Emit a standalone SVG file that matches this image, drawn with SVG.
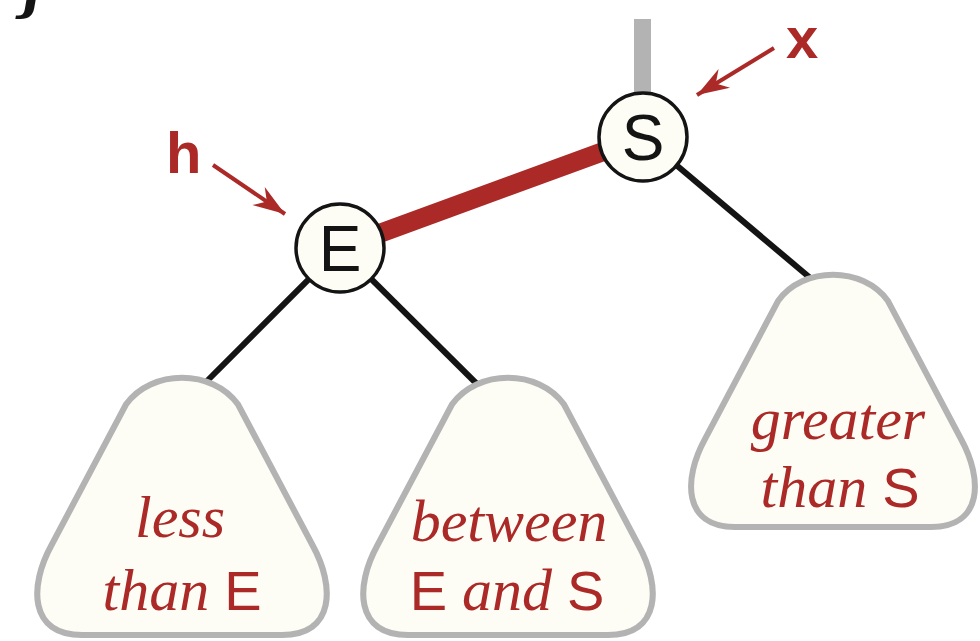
<svg xmlns="http://www.w3.org/2000/svg" xmlns:xlink="http://www.w3.org/1999/xlink" width="980" height="641" viewBox="0 0 980 641">
<style>
.node circle{fill:#fdfdf6;stroke:#141414;stroke-width:3.5}
.node text{font-family:"Liberation Sans","DejaVu Sans",sans-serif;font-size:64px;fill:#141414;text-anchor:middle}
.lbl{font-family:"Liberation Serif","DejaVu Serif",serif;font-style:italic;font-size:60px;fill:#ab2a27;text-anchor:middle}
.up{font-family:"Liberation Sans","DejaVu Sans",sans-serif;font-style:normal;font-size:56px}
.ptr{font-family:"Liberation Sans","DejaVu Sans",sans-serif;font-weight:bold;font-size:58px;fill:#ab2a27}
.edge{stroke:#141414;stroke-width:6;fill:none}
.red{stroke:#ab2a27;stroke-width:19;fill:none}
.arr{stroke:#ab2a27;stroke-width:4;fill:none;marker-end:url(#ah)}
.tri{fill:#fdfdf6;stroke:#b3b3b3;stroke-width:6}
</style>
<defs>
<marker id="ah" markerUnits="userSpaceOnUse" orient="auto" markerWidth="40" markerHeight="30" refX="0" refY="0" viewBox="-34 -15 40 30" overflow="visible">
<path d="M0,0 L-32,-11 L-22,0 L-32,11 Z" fill="#ab2a27"/>
</marker>
<path id="tri" d="M-55,25 C-30,-10 30,-10 55,25 L128,163 C150,203 150,251 98,251 L-98,251 C-150,251 -150,203 -128,163 Z"/>
</defs>
<rect width="980" height="641" fill="#ffffff"/>
<text x="20" y="8" font-family="Liberation Serif" font-weight="bold" font-style="italic" font-size="80" fill="#141414">}</text>
<g id="connectors">
<line x1="642.5" y1="19" x2="642.5" y2="137" stroke="#b3b3b3" stroke-width="17"/>
<line class="edge" x1="340" y1="248" x2="198" y2="390"/>
<line class="edge" x1="340" y1="248" x2="485" y2="392"/>
<line class="edge" x1="643" y1="137" x2="815" y2="282"/>
<line class="red" x1="340" y1="248" x2="643" y2="137"/>
<line class="arr" x1="213" y1="165" x2="285" y2="214"/>
<line class="arr" x1="774" y1="48" x2="697" y2="95"/>
</g>
<g id="sub-less">
<use class="tri" xlink:href="#tri" href="#tri" transform="translate(182,379) scale(1.02)"/>
<text class="lbl" x="180" y="537">less</text>
<text class="lbl" x="182" y="610">than <tspan class="up">E</tspan></text>
</g>
<g id="sub-between">
<use class="tri" xlink:href="#tri" href="#tri" transform="translate(508,379) scale(1.02)"/>
<text class="lbl" x="509" y="541">between</text>
<text class="lbl" x="507" y="610"><tspan class="up">E</tspan> and <tspan class="up">S</tspan></text>
</g>
<g id="sub-greater">
<use class="tri" xlink:href="#tri" href="#tri" transform="translate(833,276)"/>
<text class="lbl" x="838" y="439">greater</text>
<text class="lbl" x="840" y="507">than <tspan class="up">S</tspan></text>
</g>
<g id="node-E" class="node">
<circle cx="340" cy="248" r="44"/>
<text x="340" y="271">E</text>
</g>
<g id="node-S" class="node">
<circle cx="643" cy="137" r="44"/>
<text x="643" y="160">S</text>
</g>
<g id="ptr-h">
<text class="ptr" x="166" y="173">h</text>
</g>
<g id="ptr-x">
<text class="ptr" x="786" y="58">x</text>
</g>
</svg>
